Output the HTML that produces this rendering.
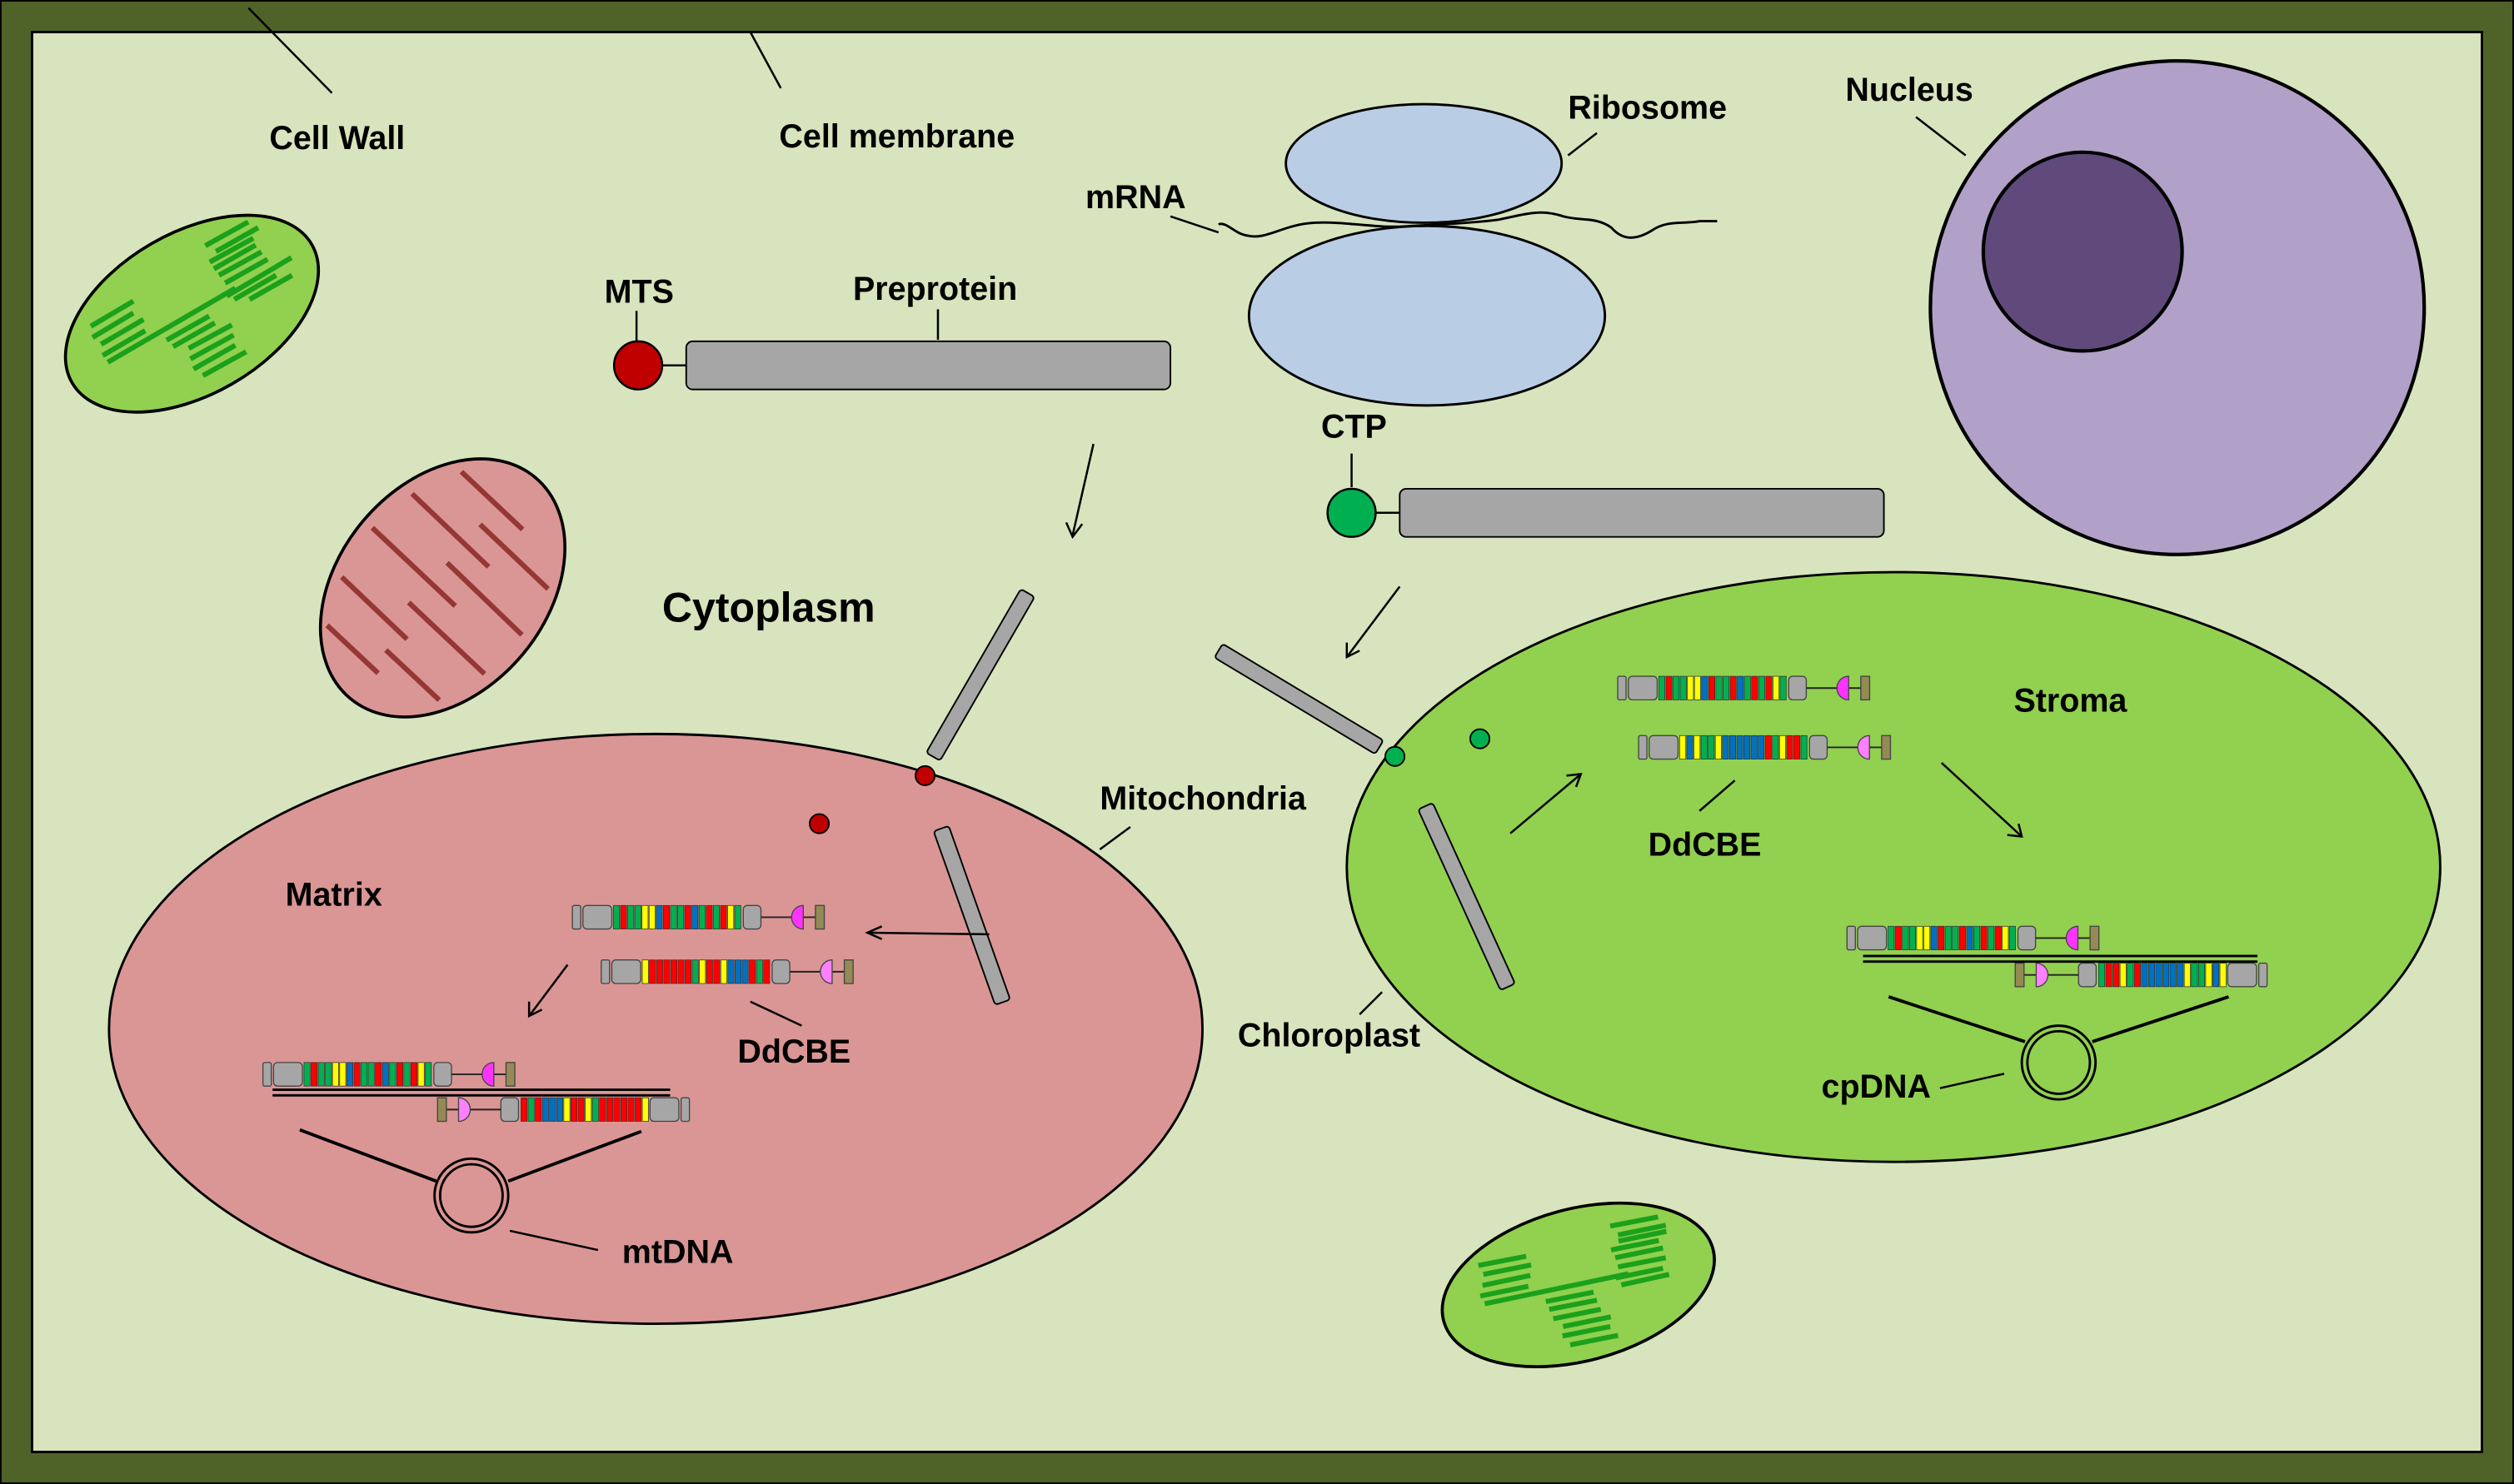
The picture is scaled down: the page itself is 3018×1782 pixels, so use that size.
<!DOCTYPE html>
<html><head><meta charset="utf-8"><style>
html,body{margin:0;padding:0;background:#4f6228}
svg{display:block}
text{font-family:"Liberation Sans",Arial,sans-serif;font-weight:bold;fill:#000}
</style></head><body>
<svg width="3018" height="1782" viewBox="0 0 1568 926" preserveAspectRatio="none" xmlns="http://www.w3.org/2000/svg">
<defs>
<g id="stA" stroke="#333" stroke-width="0.4">
<rect x="25.6" width="3.8" height="14.7" fill="#00b050"/><rect x="30.05" width="3.8" height="14.7" fill="#f00"/><rect x="34.5" width="3.8" height="14.7" fill="#00b050"/><rect x="38.95" width="3.8" height="14.7" fill="#00b050"/><rect x="43.4" width="3.8" height="14.7" fill="#ff0"/><rect x="47.85" width="3.8" height="14.7" fill="#ff0"/><rect x="52.3" width="3.8" height="14.7" fill="#0070c0"/><rect x="56.75" width="3.8" height="14.7" fill="#f00"/><rect x="61.2" width="3.8" height="14.7" fill="#00b050"/><rect x="65.65" width="3.8" height="14.7" fill="#00b050"/><rect x="70.1" width="3.8" height="14.7" fill="#f00"/><rect x="74.55" width="3.8" height="14.7" fill="#0070c0"/><rect x="79" width="3.8" height="14.7" fill="#00b050"/><rect x="83.45" width="3.8" height="14.7" fill="#f00"/><rect x="87.9" width="3.8" height="14.7" fill="#00b050"/><rect x="92.35" width="3.8" height="14.7" fill="#f00"/><rect x="96.8" width="3.8" height="14.7" fill="#ff0"/><rect x="101.25" width="3.8" height="14.7" fill="#00b050"/>
</g>
<g id="stB" stroke="#333" stroke-width="0.4">
<rect x="25.6" width="3.8" height="14.7" fill="#ff0"/><rect x="30.05" width="3.8" height="14.7" fill="#f00"/><rect x="34.5" width="3.8" height="14.7" fill="#f00"/><rect x="38.95" width="3.8" height="14.7" fill="#f00"/><rect x="43.4" width="3.8" height="14.7" fill="#f00"/><rect x="47.85" width="3.8" height="14.7" fill="#f00"/><rect x="52.3" width="3.8" height="14.7" fill="#f00"/><rect x="56.75" width="3.8" height="14.7" fill="#00b050"/><rect x="61.2" width="3.8" height="14.7" fill="#ff0"/><rect x="65.65" width="3.8" height="14.7" fill="#f00"/><rect x="70.1" width="3.8" height="14.7" fill="#f00"/><rect x="74.55" width="3.8" height="14.7" fill="#ff0"/><rect x="79" width="3.8" height="14.7" fill="#0070c0"/><rect x="83.45" width="3.8" height="14.7" fill="#0070c0"/><rect x="87.9" width="3.8" height="14.7" fill="#0070c0"/><rect x="92.35" width="3.8" height="14.7" fill="#f00"/><rect x="96.8" width="3.8" height="14.7" fill="#00b050"/><rect x="101.25" width="3.8" height="14.7" fill="#f00"/>
</g>
<g id="stC" stroke="#333" stroke-width="0.4">
<rect x="25.6" width="3.8" height="14.7" fill="#ff0"/><rect x="30.05" width="3.8" height="14.7" fill="#0070c0"/><rect x="34.5" width="3.8" height="14.7" fill="#ff0"/><rect x="38.95" width="3.8" height="14.7" fill="#00b050"/><rect x="43.4" width="3.8" height="14.7" fill="#00b050"/><rect x="47.85" width="3.8" height="14.7" fill="#ff0"/><rect x="52.3" width="3.8" height="14.7" fill="#0070c0"/><rect x="56.75" width="3.8" height="14.7" fill="#0070c0"/><rect x="61.2" width="3.8" height="14.7" fill="#0070c0"/><rect x="65.65" width="3.8" height="14.7" fill="#0070c0"/><rect x="70.1" width="3.8" height="14.7" fill="#0070c0"/><rect x="74.55" width="3.8" height="14.7" fill="#0070c0"/><rect x="79" width="3.8" height="14.7" fill="#f00"/><rect x="83.45" width="3.8" height="14.7" fill="#00b050"/><rect x="87.9" width="3.8" height="14.7" fill="#ff0"/><rect x="92.35" width="3.8" height="14.7" fill="#f00"/><rect x="96.8" width="3.8" height="14.7" fill="#f00"/><rect x="101.25" width="3.8" height="14.7" fill="#00b050"/>
</g>
<g id="frame" stroke="#444" stroke-width="0.7">
<rect x="0" y="0" width="5.2" height="14.7" rx="1" fill="#a6a6a6"/>
<rect x="6.6" y="0" width="18" height="14.7" rx="2.5" fill="#a6a6a6"/>
<rect x="106.6" y="0" width="11" height="14.7" rx="2.5" fill="#a6a6a6"/>
<line x1="117.7" y1="7.35" x2="151.6" y2="7.35" stroke="#222" stroke-width="1"/>
<rect x="151.6" y="0" width="5.5" height="14.7" fill="#948a54"/>
</g>
<path id="hd" d="M144,0 A7.3,7.35 0 0 0 144,14.7 Z" stroke="#444" stroke-width="0.7"/>
</defs>

<rect x="0" y="0" width="1568" height="926" fill="#4f6228"/>
<rect x="0.5" y="0.5" width="1567" height="925" fill="none" stroke="#000" stroke-width="1"/>
<rect x="20" y="20" width="1528" height="886" fill="#d7e4bd" stroke="#000" stroke-width="1.5"/>

<g stroke="#000" stroke-width="1.3">
<line x1="155" y1="5" x2="207" y2="58"/>
<line x1="468" y1="20" x2="487" y2="55"/>
</g>

<!-- small chloroplast + mito top-left (zoom coords) -->
<g transform="translate(31.2,124.7) scale(0.21204)">
<ellipse cx="417.5" cy="335" rx="407" ry="238" transform="rotate(-30 417.5 335)" fill="#92d050" stroke="#000" stroke-width="9"/>
<g stroke="#1ba11b" stroke-width="15">
<line x1="170" y1="478" x2="545" y2="260"/>
<line x1="120" y1="372" x2="245" y2="298"/><line x1="125" y1="405" x2="245" y2="333"/><line x1="150" y1="425" x2="275" y2="352"/><line x1="155" y1="458" x2="280" y2="385"/>
<line x1="343" y1="413" x2="468" y2="342"/><line x1="362" y1="432" x2="485" y2="362"/><line x1="408" y1="437" x2="535" y2="368"/><line x1="413" y1="468" x2="540" y2="398"/><line x1="422" y1="498" x2="545" y2="428"/><line x1="450" y1="517" x2="577" y2="447"/>
<line x1="457" y1="135" x2="583" y2="65"/><line x1="488" y1="152" x2="612" y2="82"/><line x1="470" y1="183" x2="598" y2="113"/><line x1="482" y1="203" x2="605" y2="133"/><line x1="497" y1="222" x2="622" y2="153"/><line x1="515" y1="245" x2="640" y2="175"/><line x1="520" y1="283" x2="710" y2="170"/><line x1="542" y1="293" x2="665" y2="222"/><line x1="587" y1="293" x2="712" y2="222"/>
</g>
<ellipse cx="1155" cy="1142" rx="306" ry="424" transform="rotate(40 1155 1142)" fill="#da9694" stroke="#000" stroke-width="9"/>
<g stroke="#953735" stroke-width="15">
<line x1="1210" y1="800" x2="1390" y2="970"/><line x1="1065" y1="865" x2="1290" y2="1080"/><line x1="1265" y1="955" x2="1465" y2="1145"/>
<line x1="948" y1="965" x2="1192" y2="1195"/><line x1="1168" y1="1068" x2="1388" y2="1280"/><line x1="858" y1="1110" x2="1050" y2="1293"/>
<line x1="1055" y1="1185" x2="1278" y2="1395"/><line x1="815" y1="1252" x2="965" y2="1393"/><line x1="988" y1="1325" x2="1145" y2="1472"/>
</g>
</g>

<!-- nucleus -->
<circle cx="1358" cy="192" r="154" fill="#b1a0c7" stroke="#000" stroke-width="2.2"/>
<circle cx="1299" cy="157" r="62" fill="#604a7b" stroke="#000" stroke-width="2.2"/>

<!-- ribosome -->
<ellipse cx="890" cy="197" rx="111" ry="56" fill="#b9cde5" stroke="#000" stroke-width="1.5"/>
<ellipse cx="888" cy="102" rx="86" ry="37" fill="#b9cde5" stroke="#000" stroke-width="1.5"/>
<path d="M760,140 C765,138 770,146 778,147 C790,150 800,140 820,139 C840,138 860,143 880,141 C900,140 920,139 935,137 C950,134 960,130 975,135 C985,138 995,135 1005,142 C1012,150 1020,150 1030,144 C1040,137 1050,140 1060,138 L1071,138" fill="none" stroke="#000" stroke-width="1.5"/>

<!-- preprotein MTS -->
<line x1="397" y1="194" x2="397" y2="213" stroke="#000" stroke-width="1.3"/>
<line x1="585" y1="193" x2="585" y2="212" stroke="#000" stroke-width="1.3"/>
<line x1="412" y1="228" x2="428" y2="228" stroke="#000" stroke-width="1.3"/>
<circle cx="398" cy="228" r="15" fill="#c00000" stroke="#000" stroke-width="1.3"/>
<rect x="428" y="213" width="302" height="30" rx="4" fill="#a6a6a6" stroke="#000" stroke-width="1"/>

<!-- CTP -->
<line x1="843" y1="283" x2="843" y2="304" stroke="#000" stroke-width="1.3"/>
<line x1="857" y1="320" x2="873" y2="320" stroke="#000" stroke-width="1.3"/>
<circle cx="843" cy="320" r="15" fill="#00b050" stroke="#000" stroke-width="1.3"/>
<rect x="873" y="305" width="302" height="30" rx="4" fill="#a6a6a6" stroke="#000" stroke-width="1"/>

<!-- big mitochondrion -->
<ellipse cx="409" cy="642" rx="341" ry="184" fill="#da9694" stroke="#000" stroke-width="1.5"/>
<!-- big chloroplast -->
<ellipse cx="1181" cy="541" rx="341" ry="184" fill="#92d050" stroke="#000" stroke-width="1.5"/>

<!-- small chloroplast bottom (zoom coords) -->
<g transform="translate(893.5,742.9) scale(0.17316)">
<ellipse cx="525" cy="340" rx="502" ry="274" transform="rotate(-15 525 340)" fill="#92d050" stroke="#000" stroke-width="11"/>
<g stroke="#1ba11b" stroke-width="18">
<line x1="188" y1="408" x2="705" y2="300"/>
<line x1="165" y1="270" x2="337" y2="237"/><line x1="183" y1="302" x2="355" y2="268"/><line x1="180" y1="342" x2="352" y2="306"/><line x1="172" y1="380" x2="345" y2="345"/>
<line x1="408" y1="400" x2="580" y2="366"/><line x1="420" y1="428" x2="592" y2="395"/><line x1="435" y1="462" x2="606" y2="428"/><line x1="470" y1="490" x2="642" y2="455"/><line x1="468" y1="524" x2="640" y2="490"/><line x1="496" y1="556" x2="668" y2="522"/>
<line x1="640" y1="128" x2="812" y2="95"/><line x1="668" y1="160" x2="840" y2="125"/><line x1="670" y1="182" x2="842" y2="147"/><line x1="643" y1="214" x2="815" y2="180"/><line x1="658" y1="242" x2="830" y2="207"/><line x1="668" y1="275" x2="840" y2="242"/><line x1="660" y1="315" x2="830" y2="280"/><line x1="680" y1="340" x2="852" y2="302"/>
</g>
</g>

<!-- tilted bars -->
<g fill="#a6a6a6" stroke="#000" stroke-width="1">
<rect x="-5" y="0" width="10" height="118" rx="2" transform="translate(641,370) rotate(30)"/>
<rect x="-5" y="0" width="10" height="115" rx="2" transform="translate(587,517) rotate(-19.5)"/>
<rect x="-5" y="0" width="10" height="117" rx="2" transform="translate(760,406) rotate(-59)"/>
<rect x="-5" y="0" width="10" height="124" rx="2" transform="translate(889,503) rotate(-24.5)"/>
</g>
<circle cx="577" cy="484" r="6" fill="#c00000" stroke="#000" stroke-width="1"/>
<circle cx="511" cy="514" r="6" fill="#c00000" stroke="#000" stroke-width="1"/>
<circle cx="870" cy="472" r="6" fill="#00b050" stroke="#000" stroke-width="1"/>
<circle cx="923" cy="461" r="6" fill="#00b050" stroke="#000" stroke-width="1"/>

<!-- arrows -->
<g stroke="#000" stroke-width="1.3" fill="none">
<line x1="682" y1="277" x2="669" y2="334"/><polyline points="665,326 669,335 675,327"/>
<line x1="873" y1="366" x2="840" y2="410"/><polyline points="840,401 840,410 848,406"/>
<line x1="617" y1="583" x2="542" y2="582"/><polyline points="550,578 541,582 550,586"/>
<line x1="354" y1="602" x2="330" y2="634"/><polyline points="330,625 330,634 338,630"/>
<line x1="942" y1="520" x2="986" y2="483"/><polyline points="977,484 986,483 983,491"/>
<line x1="1211" y1="476" x2="1261" y2="522"/><polyline points="1259,514 1261,522 1252,521"/>
</g>

<!-- mito constructs -->
<g transform="translate(357,565)"><use href="#frame"/><use href="#stA"/><use href="#hd" fill="#ff33ff"/></g>
<g transform="translate(375,599)"><use href="#frame"/><use href="#stB"/><use href="#hd" fill="#ff80ff"/></g>
<g transform="translate(164,663)"><use href="#frame"/><use href="#stA"/><use href="#hd" fill="#ff33ff"/></g>
<g transform="translate(430,685) scale(-1,1)"><use href="#frame"/><use href="#stB"/><use href="#hd" fill="#ff80ff"/></g>
<line x1="170" y1="680" x2="418" y2="680" stroke="#000" stroke-width="1.5"/>
<line x1="170" y1="683.5" x2="418" y2="683.5" stroke="#000" stroke-width="1.5"/>
<circle cx="294" cy="746" r="23" fill="none" stroke="#000" stroke-width="1.5"/>
<circle cx="294" cy="746" r="19.5" fill="none" stroke="#000" stroke-width="1.5"/>
<g stroke="#000" stroke-width="2">
<line x1="187" y1="705" x2="272" y2="737"/><line x1="400" y1="706" x2="317" y2="737"/>
<line x1="318" y1="768" x2="373" y2="780" stroke-width="1.3"/>
</g>

<!-- chloro constructs -->
<g transform="translate(1009,422)"><use href="#frame"/><use href="#stA"/><use href="#hd" fill="#ff33ff"/></g>
<g transform="translate(1022,459)"><use href="#frame"/><use href="#stC"/><use href="#hd" fill="#ff80ff"/></g>
<g transform="translate(1152,578)"><use href="#frame"/><use href="#stA"/><use href="#hd" fill="#ff33ff"/></g>
<g transform="translate(1414,601) scale(-1,1)"><use href="#frame"/><use href="#stC"/><use href="#hd" fill="#ff80ff"/></g>
<line x1="1162" y1="596.5" x2="1408" y2="596.5" stroke="#000" stroke-width="1.5"/>
<line x1="1162" y1="600" x2="1408" y2="600" stroke="#000" stroke-width="1.5"/>
<circle cx="1284" cy="663" r="23" fill="none" stroke="#000" stroke-width="1.5"/>
<circle cx="1284" cy="663" r="19.5" fill="none" stroke="#000" stroke-width="1.5"/>
<g stroke="#000" stroke-width="2">
<line x1="1178" y1="622" x2="1263" y2="650"/><line x1="1390" y1="622" x2="1305" y2="650"/>
<line x1="1210" y1="679" x2="1250" y2="670" stroke-width="1.3"/>
</g>

<!-- label leader lines -->
<g stroke="#000" stroke-width="1.3">
<line x1="978" y1="97" x2="996" y2="83"/>
<line x1="1195" y1="73" x2="1226" y2="97"/>
<line x1="730" y1="135" x2="760" y2="145"/>
<line x1="686" y1="530" x2="705" y2="516"/>
<line x1="468" y1="625" x2="500" y2="640"/>
<line x1="848" y1="633" x2="862" y2="619"/>
<line x1="1060" y1="506" x2="1082" y2="487"/>
</g>

<!-- labels -->
<g font-size="20.5">
<text x="168" y="93">Cell Wall</text>
<text x="486" y="92">Cell membrane</text>
<text x="978" y="74">Ribosome</text>
<text x="1151" y="63">Nucleus</text>
<text x="677" y="130">mRNA</text>
<text x="377" y="189">MTS</text>
<text x="532" y="187">Preprotein</text>
<text x="824" y="273">CTP</text>
<text x="686" y="505">Mitochondria</text>
<text x="178" y="565">Matrix</text>
<text x="460" y="663">DdCBE</text>
<text x="388" y="788">mtDNA</text>
<text x="772" y="653">Chloroplast</text>
<text x="1256" y="444">Stroma</text>
<text x="1028" y="534">DdCBE</text>
<text x="1136" y="685">cpDNA</text>
</g>
<text x="413" y="388" font-size="26">Cytoplasm</text>
</svg>
</body></html>
